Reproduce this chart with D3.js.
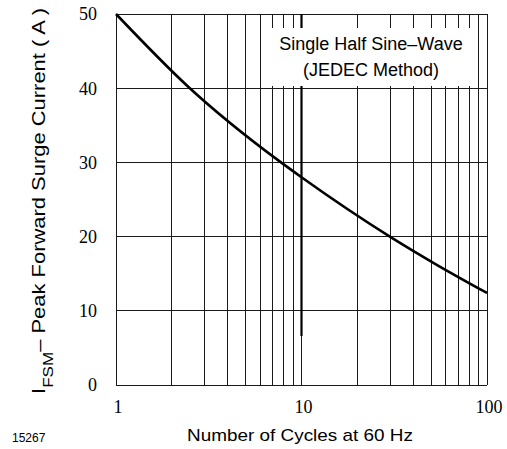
<!DOCTYPE html>
<html>
<head>
<meta charset="utf-8">
<script src="https://cdn.jsdelivr.net/npm/d3@7"></script>
<style>
  body { margin: 0; background: #fff; }
  .grid-line { stroke: #1a1a1a; stroke-width: 1; shape-rendering: crispEdges; }
  .tick-label { font-family: "Liberation Serif", "Times New Roman", serif; font-size: 18px; fill: #000; }
  .axis-title { font-family: "Liberation Sans", Arial, sans-serif; fill: #000; }
  .note-text { font-family: "Liberation Sans", Arial, sans-serif; font-size: 18px; fill: #000; }
</style>
</head>
<body>
<div id="chart"></div>
<script>
// curve: cycles (60 Hz) vs peak surge current (A)
const cycles = [1, 2.45, 7.56, 10, 30.4, 53.6, 100];
const surgeCurrent = [50, 40.2, 30.2, 28.0, 19.9, 16.2, 12.4];

const xTicks = [1, 10, 100];
const xGrid = [1, 2, 3, 4, 5, 6, 7, 8, 9, 10, 20, 30, 40, 50, 60, 70, 80, 90, 100];
const yTicks = [0, 10, 20, 30, 40, 50];

// the heavier line drawn at 10 cycles in the original sheet
const heavyLineAt = 10;
const heavyLineFrom = 6.6;

const noteLines = ["Single Half Sine\u2013Wave", "(JEDEC Method)"];
const figureId = "15267";

class SurgeChart {
  constructor(_config) {
    this.config = {
      parentElement: _config.parentElement,
      containerWidth: _config.containerWidth || 507,
      containerHeight: _config.containerHeight || 449,
      margin: _config.margin || { top: 14, right: 20, bottom: 64, left: 116 },
    };
    this.initVis();
  }

  initVis() {
    let vis = this;

    vis.width = vis.config.containerWidth - vis.config.margin.left - vis.config.margin.right;
    vis.height = vis.config.containerHeight - vis.config.margin.top - vis.config.margin.bottom;

    vis.svg = d3.select(vis.config.parentElement)
      .append("svg")
      .attr("width", vis.config.containerWidth)
      .attr("height", vis.config.containerHeight);

    vis.chart = vis.svg.append("g")
      .attr("transform", `translate(${vis.config.margin.left},${vis.config.margin.top})`);

    vis.xScale = d3.scaleLog().domain([1, 100]).range([0, vis.width]);
    vis.yScale = d3.scaleLinear().domain([0, 50]).range([vis.height, 0]);

    vis.renderVis();
  }

  renderVis() {
    let vis = this;

    // vertical grid (log decades)
    vis.chart.selectAll(".v-grid")
      .data(xGrid)
      .join("line")
      .attr("class", "grid-line v-grid")
      .attr("x1", d => vis.xScale(d))
      .attr("x2", d => vis.xScale(d))
      .attr("y1", 0)
      .attr("y2", vis.height);

    // horizontal grid
    vis.chart.selectAll(".h-grid")
      .data(yTicks)
      .join("line")
      .attr("class", "grid-line h-grid")
      .attr("x1", 0)
      .attr("x2", vis.width)
      .attr("y1", d => vis.yScale(d))
      .attr("y2", d => vis.yScale(d));

    // heavy line at 10 cycles
    vis.chart.append("line")
      .attr("x1", vis.xScale(heavyLineAt))
      .attr("x2", vis.xScale(heavyLineAt))
      .attr("y1", vis.yScale(50))
      .attr("y2", vis.yScale(heavyLineFrom))
      .attr("stroke", "#000")
      .attr("stroke-width", 2.2);

    // note box covering the grid
    const boxX0 = 150, boxX1 = 358;
    const boxY0 = 14, boxY1 = 72;
    vis.chart.append("rect")
      .attr("x", boxX0)
      .attr("y", boxY0)
      .attr("width", boxX1 - boxX0)
      .attr("height", boxY1 - boxY0)
      .attr("fill", "#fff");

    vis.chart.selectAll(".note-text")
      .data(noteLines)
      .join("text")
      .attr("class", "note-text")
      .attr("text-anchor", "middle")
      .attr("x", (boxX0 + boxX1) / 2 + 1)
      .attr("y", (d, i) => boxY0 + 22 + i * 26)
      .text(d => d);

    // surge curve
    const line = d3.line()
      .x((d, i) => vis.xScale(cycles[i]))
      .y(d => vis.yScale(d))
      .curve(d3.curveMonotoneX);

    vis.chart.append("path")
      .datum(surgeCurrent)
      .attr("fill", "none")
      .attr("stroke", "#000")
      .attr("stroke-width", 2.6)
      .attr("d", line);

    // tick labels
    vis.chart.selectAll(".y-label")
      .data(yTicks)
      .join("text")
      .attr("class", "tick-label y-label")
      .attr("text-anchor", "end")
      .attr("x", -19)
      .attr("y", d => vis.yScale(d))
      .attr("dy", "0.35em")
      .text(d => d);

    vis.chart.selectAll(".x-label")
      .data(xTicks)
      .join("text")
      .attr("class", "tick-label x-label")
      .attr("text-anchor", "middle")
      .attr("x", d => vis.xScale(d) + 2)
      .attr("y", vis.height + 28)
      .text(d => d);

    // axis titles
    vis.svg.append("text")
      .attr("class", "axis-title")
      .attr("text-anchor", "middle")
      .attr("x", 300)
      .attr("y", 441)
      .attr("font-size", 17)
      .attr("textLength", 226)
      .attr("lengthAdjust", "spacingAndGlyphs")
      .text("Number of Cycles at 60 Hz");

    const yTitle = vis.svg.append("text")
      .attr("class", "axis-title")
      .attr("transform", "translate(45,201) rotate(-90)")
      .attr("text-anchor", "middle")
      .attr("font-size", 18)
      .attr("textLength", 386)
      .attr("lengthAdjust", "spacingAndGlyphs");
    yTitle.append("tspan").text("I");
    yTitle.append("tspan").attr("font-size", 14).attr("dy", 8).text("FSM");
    yTitle.append("tspan").attr("dy", -8).text("\u2013 Peak Forward Surge Current ( A )");

    vis.svg.append("text")
      .attr("class", "axis-title")
      .attr("x", 12)
      .attr("y", 442)
      .attr("font-size", 12)
      .text(figureId);
  }
}

new SurgeChart({ parentElement: "#chart" });
</script>
</body>
</html>
